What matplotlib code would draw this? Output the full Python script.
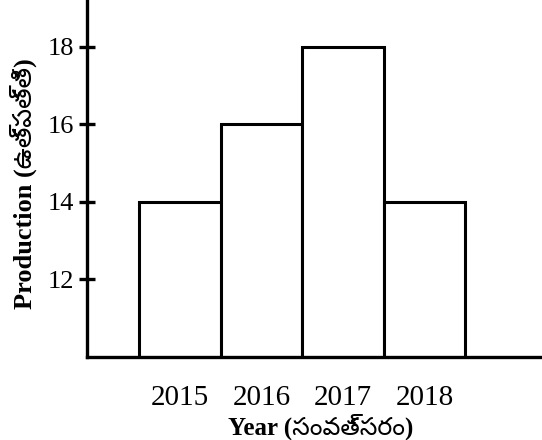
import matplotlib
matplotlib.use("Agg")
import matplotlib.pyplot as plt

years = ["2015", "2016", "2017", "2018"]
production = [14, 16, 18, 14]
y_ticks = [12, 14, 16, 18]
x_label = "Year (సంవత్సరం)"
y_label = "Production (ఉత్పత్తి)"

fams = ["Liberation Serif", "Noto Sans Telugu", "Hind Guntur", "Tiro Telugu"]

fig = plt.figure(figsize=(5.42, 4.40), dpi=100)
ax = fig.add_axes([87 / 542, 83 / 440, 1 - 87 / 542, 1 - 83 / 440])

x = list(range(len(years)))
ax.bar(x, production, width=1.0, bottom=0, color="white",
       edgecolor="black", linewidth=2.2, zorder=2)

ax.set_xlim(-1.14, 4.44)
ax.set_ylim(10, 19.2)

for s in ["top", "right"]:
    ax.spines[s].set_visible(False)
for s in ["left", "bottom"]:
    ax.spines[s].set_linewidth(2.4)
    ax.spines[s].set_zorder(3)

ax.set_xticks(x)
ax.set_xticklabels(years, fontfamily="Liberation Serif", fontsize=21)
ax.tick_params(axis="x", length=0, pad=20)
ax.set_yticks(y_ticks)
ax.set_yticklabels([str(v) for v in y_ticks], fontfamily="Liberation Serif",
                   fontsize=19)
ax.tick_params(axis="y", direction="inout", length=12, width=2.4, pad=3)

ax.set_xlabel(x_label, family=fams, fontsize=18, fontweight="bold")
ax.set_ylabel(y_label, family=fams, fontsize=19, fontweight="bold")
ax.xaxis.set_label_coords(0.514, -0.158)
ax.yaxis.set_label_coords(-0.11, 0.485)

fig.savefig("out.png", dpi=100)
